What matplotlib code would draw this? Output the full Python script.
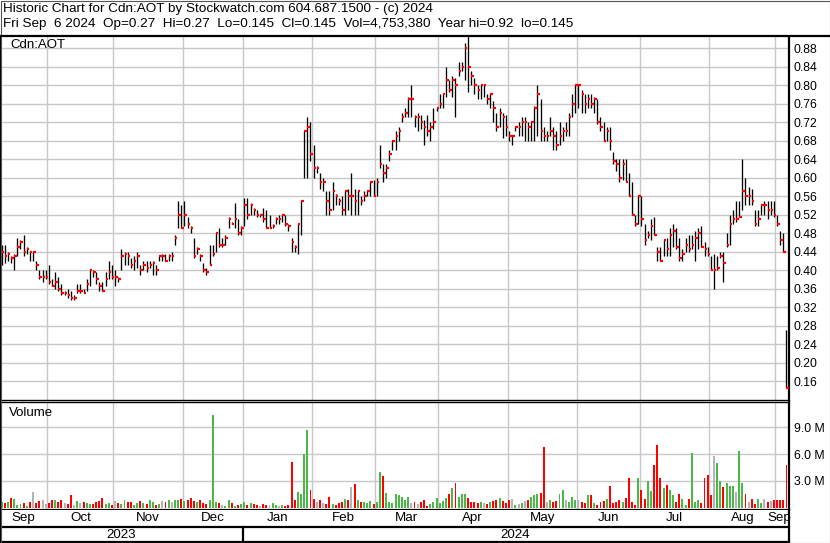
import numpy as np
import matplotlib
matplotlib.use("Agg")
import matplotlib.pyplot as plt
from matplotlib.lines import Line2D
from matplotlib.patches import Rectangle

plt.rcParams['font.family'] = ['Liberation Sans', 'DejaVu Sans']

# ---------------- data ----------------
month_names = ['Sep', 'Oct', 'Nov', 'Dec', 'Jan', 'Feb', 'Mar', 'Apr', 'May', 'Jun', 'Jul', 'Aug', 'Sep']
month_days = [15, 21, 22, 19, 22, 20, 20, 22, 22, 20, 22, 21, 4]   # trading days shown per month
years = ['2023', '2024']

close = [
    .44, .43, .435, .425, .43, .45, .46, .44, .445, .44, .44, .41, .385, .385, .385,
    .375, .365, .375, .36, .35, .35, .345, .34, .34, .355, .355, .35, .37, .40, .395, .38, .365, .355, .38, .395, .385,
    .385, .38, .43, .435, .43, .41, .42, .43, .40, .41, .405, .41, .415, .40, .43, .43, .42, .43, .43, .47, .52, .49,
    .52, .50, .49, .43, .445, .43, .40, .395, .41, .435, .48, .455, .455, .47, .51, .50, .51, .48, .49,
    .54, .52, .54, .53, .52, .52, .51, .49, .49, .495, .51, .51, .52, .50, .495, .46, .45, .50, .55, .70, .71, .65,
    .62, .62, .59, .59, .55, .53, .57, .56, .55, .53, .57, .56, .56, .55, .57, .55, .56, .57, .59, .56,
    .59, .63, .61, .62, .65, .68, .69, .70, .73, .74, .77, .77, .73, .73, .72, .71, .70, .71, .72, .75,
    .76, .78, .81, .79, .81, .80, .83, .84, .88, .84, .82, .80, .79, .80, .80, .77, .78, .75, .71, .74, .73, .71,
    .69, .69, .71, .71, .72, .72, .71, .72, .75, .78, .70, .69, .69, .70, .69, .67, .69, .70, .70, .73, .76, .80,
    .80, .78, .76, .77, .76, .77, .72, .71, .68, .70, .68, .635, .63, .60, .63, .59, .56, .52, .50, .56,
    .51, .465, .475, .495, .475, .44, .42, .465, .445, .475, .485, .45, .425, .435, .455, .445, .455, .47, .48, .45, .445, .435,
    .40, .40, .405, .43, .415, .455, .50, .51, .51, .515, .57, .56, .56, .55, .50, .51, .54, .54, .53, .53, .52,
    .50, .465, .44, .145,
]
high = [
    .455, .455, .44, .43, .435, .47, .465, .475, .45, .44, .44, .42, .40, .40, .40,
    .41, .38, .395, .385, .37, .355, .36, .355, .345, .37, .37, .36, .38, .40, .40, .395, .375, .375, .395, .42, .41,
    .40, .385, .445, .44, .44, .425, .43, .44, .41, .42, .42, .42, .42, .41, .43, .435, .435, .435, .44, .475, .55, .54,
    .55, .515, .495, .47, .45, .435, .415, .405, .455, .455, .48, .49, .47, .475, .515, .505, .545, .51, .495,
    .555, .555, .545, .535, .53, .52, .535, .53, .52, .50, .515, .52, .52, .52, .50, .47, .455, .50, .55, .70, .73, .72,
    .67, .625, .61, .60, .57, .57, .59, .565, .555, .56, .57, .575, .61, .575, .57, .56, .57, .57, .59, .595,
    .60, .67, .63, .63, .66, .68, .70, .71, .74, .75, .775, .80, .735, .74, .735, .725, .735, .72, .75, .75,
    .78, .78, .84, .81, .82, .815, .85, .85, .89, .92, .83, .815, .80, .80, .80, .78, .78, .765, .74, .75, .74, .735,
    .70, .69, .71, .72, .73, .73, .72, .72, .755, .80, .77, .71, .70, .73, .71, .70, .72, .71, .72, .74, .78, .80,
    .80, .79, .78, .78, .78, .775, .77, .73, .72, .71, .71, .655, .64, .64, .64, .64, .61, .59, .52, .56,
    .56, .50, .485, .51, .515, .45, .45, .465, .47, .49, .50, .49, .47, .445, .47, .475, .475, .485, .49, .495, .46, .45,
    .43, .435, .43, .44, .44, .48, .52, .53, .55, .55, .64, .60, .58, .575, .53, .53, .54, .55, .55, .55, .55,
    .52, .485, .48, .27,
]
low = [
    .41, .415, .42, .415, .40, .43, .445, .43, .435, .42, .42, .40, .38, .375, .38,
    .37, .365, .36, .355, .345, .345, .34, .335, .335, .35, .35, .35, .355, .365, .385, .37, .355, .355, .365, .38, .38,
    .365, .375, .40, .41, .41, .405, .40, .405, .39, .40, .395, .405, .39, .39, .42, .42, .42, .42, .42, .455, .49, .49,
    .495, .49, .48, .425, .435, .42, .395, .39, .41, .43, .44, .45, .45, .455, .49, .50, .49, .475, .475,
    .495, .51, .52, .52, .515, .515, .505, .49, .49, .49, .50, .50, .505, .495, .485, .44, .44, .435, .475, .60, .60, .635,
    .60, .61, .575, .57, .52, .52, .53, .54, .54, .52, .52, .53, .52, .52, .52, .54, .55, .56, .56, .56,
    .56, .62, .59, .60, .635, .66, .66, .68, .72, .73, .73, .73, .71, .70, .705, .67, .69, .68, .705, .745,
    .75, .75, .775, .785, .775, .73, .82, .83, .81, .785, .80, .78, .77, .77, .775, .76, .75, .72, .70, .71, .685, .69,
    .68, .67, .70, .69, .69, .68, .68, .68, .68, .69, .68, .68, .68, .69, .66, .66, .67, .68, .69, .69, .73, .74,
    .75, .74, .74, .75, .75, .74, .715, .70, .68, .68, .66, .63, .615, .59, .595, .59, .56, .52, .495, .50,
    .495, .455, .47, .465, .475, .42, .42, .43, .43, .43, .45, .445, .42, .42, .44, .44, .445, .42, .445, .45, .43, .43,
    .40, .36, .40, .425, .375, .45, .455, .50, .505, .515, .53, .54, .54, .54, .495, .495, .52, .52, .51, .52, .515,
    .495, .455, .44, .145,
]
volume_m = [
    0.6, 0.5, 0.6, 1.1, 1.0, 0.3, 0.4, 0.5, 0.2, 0.6, 1.8, 0.5, 0.7, 0.9, 0.4,
    0.5, 0.9, 0.8, 0.6, 0.9, 0.5, 0.4, 1.4, 0.3, 0.7, 0.5, 0.6, 0.5, 0.4, 0.4, 0.6, 0.7, 1.1, 0.4, 0.5, 0.3,
    0.7, 0.5, 0.4, 0.9, 0.6, 0.6, 0.3, 0.5, 0.7, 0.5, 0.4, 0.8, 0.6, 0.3, 0.4, 0.7, 0.6, 0.9, 0.6, 0.8, 0.9, 1.0,
    0.7, 0.9, 1.1, 0.7, 0.6, 0.8, 0.5, 0.4, 0.9, 10.4, 0.6, 0.5, 0.3, 0.2, 0.9, 0.5, 0.2, 0.3, 0.4,
    0.6, 0.3, 0.5, 0.4, 0.3, 0.2, 0.4, 0.3, 0.3, 0.5, 0.3, 0.2, 0.3, 0.2, 0.3, 5.1, 0.8, 1.8, 1.5, 6.0, 8.7, 2.0,
    1.0, 0.6, 0.8, 0.5, 0.4, 1.2, 0.4, 0.3, 0.5, 0.6, 1.0, 0.8, 2.3, 2.6, 0.9, 0.6, 0.6, 0.5, 0.7, 0.4,
    0.6, 4.0, 3.5, 1.6, 0.6, 0.5, 1.5, 1.4, 1.2, 0.8, 1.2, 0.5, 0.6, 0.4, 0.6, 0.8, 0.2, 0.4, 0.6, 1.1,
    0.5, 0.7, 1.1, 1.5, 2.2, 2.7, 1.2, 1.5, 1.5, 1.1, 0.6, 0.6, 0.5, 0.6, 0.5, 0.4, 0.6, 0.7, 0.9, 1.1, 0.7, 0.5,
    0.8, 1.0, 0.3, 0.4, 0.5, 0.7, 0.8, 1.2, 1.4, 1.5, 1.6, 6.8, 0.6, 0.8, 0.6, 0.7, 1.5, 2.0, 0.8, 0.6, 1.2, 0.8,
    0.8, 0.6, 0.5, 1.4, 1.4, 0.5, 0.3, 0.6, 0.7, 1.0, 2.4, 0.5, 0.6, 0.8, 0.6, 1.1, 3.3, 0.6, 0.3, 3.3,
    2.0, 1.0, 3.0, 1.9, 4.8, 7.0, 3.3, 2.2, 2.5, 2.0, 1.4, 0.6, 1.5, 1.0, 0.3, 1.0, 6.1, 0.6, 0.9, 0.5, 3.3, 3.6,
    1.4, 5.8, 5.0, 3.0, 2.3, 2.8, 2.4, 2.4, 1.7, 6.4, 2.7, 1.5, 0.6, 1.0, 0.4, 1.0, 0.5, 1.0, 0.6, 0.7, 0.9,
    0.9, 0.8, 0.8, 4.75,
]
price_ticks = [0.16, 0.20, 0.24, 0.28, 0.32, 0.36, 0.40, 0.44, 0.48, 0.52, 0.56, 0.60,
               0.64, 0.68, 0.72, 0.76, 0.80, 0.84, 0.88]
vol_ticks = [3.0, 6.0, 9.0]

title1 = "Historic Chart for Cdn:AOT by Stockwatch.com 604.687.1500 - (c) 2024"
title2 = "Fri Sep  6 2024  Op=0.27  Hi=0.27  Lo=0.145  Cl=0.145  Vol=4,753,380  Year hi=0.92  lo=0.145"

# ---------------- figure ----------------
W, H = 830, 543
fig = plt.figure(figsize=(W / 100, H / 100), dpi=100)


def box(x0, y0, x1, y1):
    return [x0 / W, 1 - y1 / H, (x1 - x0) / W, (y1 - y0) / H]


n = len(close)
x = np.arange(n)
starts = np.concatenate([[0], np.cumsum(month_days)[:-1]])
bounds = starts[1:] - 0.5
GRID = '#c8c8c8'
RED = '#ff0000'
GREEN = '#4cb848'
GRAY = '#b4b4b4'
XR = 789          # right edge of the plotting area in pixels
XMAX = n - 0.2

# header
fig.text(3 / W, 1 - 9 / H, title1, fontsize=9.7, va='center', ha='left')
fig.text(3 / W, 1 - 24 / H, title2, fontsize=9.7, va='center', ha='left')
fig.add_artist(Line2D([0, 1], [1 - 36 / H, 1 - 36 / H], color='black', lw=1.6, transform=fig.transFigure))

# price panel
axp = fig.add_axes(box(0, 37, XR, 400))
axp.set_xlim(-0.5, XMAX)
axp.set_ylim(0.119, 0.904)
axp.set_yticks(price_ticks)
axp.set_yticklabels([f"{t:.2f}" for t in price_ticks])
axp.set_xticks(bounds)
axp.set_xticklabels([])
axp.grid(True, color=GRID, lw=1.0)
axp.set_axisbelow(True)
axp.yaxis.tick_right()
axp.tick_params(axis='both', length=0)
axp.tick_params(axis='y', labelsize=8.8, pad=3.5)
axp.vlines(x, low, high, color='black', lw=0.95, zorder=3)
axp.hlines(close, x, x + 0.8, color=RED, lw=1.6, zorder=4)
for s in ['left', 'right']:
    axp.spines[s].set_linewidth(1.6)
axp.spines['top'].set_visible(False)
axp.spines['bottom'].set_linewidth(1.0)
axp.text(10 / XR, 1 - 7.5 / 363, 'Cdn:AOT', transform=axp.transAxes, fontsize=9.5, va='center', ha='left')

# volume panel
colors = [GREEN]
for i in range(1, n):
    if close[i] > close[i - 1]:
        colors.append(GREEN)
    elif close[i] < close[i - 1]:
        colors.append(RED)
    else:
        colors.append(GRAY)
axv = fig.add_axes(box(0, 402, XR, 509.5))
axv.set_xlim(-0.5, XMAX)
axv.set_ylim(-0.22, 11.85)
axv.bar(x, volume_m, width=0.62, color=colors, zorder=3)
axv.set_yticks(vol_ticks)
axv.set_yticklabels([f"{t:.1f} M" for t in vol_ticks])
axv.set_xticks(bounds)
axv.set_xticklabels([])
axv.grid(True, color=GRID, lw=1.0)
axv.set_axisbelow(True)
axv.yaxis.tick_right()
axv.tick_params(axis='both', length=0)
axv.tick_params(axis='y', labelsize=8.8, pad=3.5)
for s in ['left', 'right', 'bottom']:
    axv.spines[s].set_linewidth(1.6)
axv.spines['top'].set_linewidth(1.0)
axv.text(9 / XR, 1 - 11 / 107.5, 'Volume', transform=axv.transAxes, fontsize=9.5, va='center', ha='left')

# date label band
axd = fig.add_axes(box(0, 509.5, XR, 542))
axd.set_xlim(-0.5, XMAX)
axd.set_ylim(0, 1)
axd.set_xticks([])
axd.set_yticks([])
for s in ['left', 'right', 'bottom']:
    axd.spines[s].set_linewidth(1.6)
axd.spines['top'].set_visible(False)
axd.axhline(1 - 17.5 / 32.5, color='black', lw=1.6)
for i, name in enumerate(month_names):
    a = starts[i] - 0.5
    b = starts[i] + month_days[i] - 0.5
    c = (a + b) / 2 if i < len(month_names) - 1 else a + 1.2
    axd.text(c, 1 - 8.5 / 32.5, name, fontsize=9.6, ha='center', va='center')
jan = starts[4] - 0.5
axd.plot([jan, jan], [0, 1 - 17.5 / 32.5], color='black', lw=1.6)
axd.text((-0.5 + jan) / 2, 1 - 25.5 / 32.5, years[0], fontsize=9.6, ha='center', va='center')
axd.text((jan + n - 0.5) / 2, 1 - 25.5 / 32.5, years[1], fontsize=9.6, ha='center', va='center')

# outer frame
fig.add_artist(Rectangle((0.5 / W, 0.5 / H), 1 - 1 / W, 1 - 1 / H, fill=False, edgecolor='#555555',
                         lw=0.8, transform=fig.transFigure))

fig.savefig('out.png', dpi=100)
